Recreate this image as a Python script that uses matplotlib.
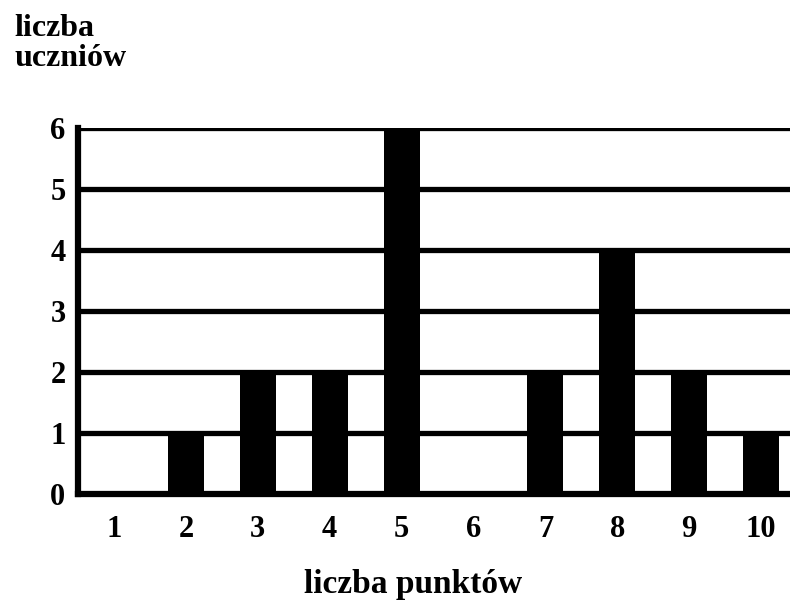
import matplotlib
matplotlib.use('Agg')
import matplotlib.pyplot as plt

# points scored and how many pupils got them
punkty = [1, 2, 3, 4, 5, 6, 7, 8, 9, 10]
uczniowie = [0, 1, 2, 2, 6, 0, 2, 4, 2, 1]
y_ticks = [0, 1, 2, 3, 4, 5, 6]

plt.rcParams['font.family'] = ['Liberation Serif', 'DejaVu Serif']
plt.rcParams['font.weight'] = 'bold'

fig = plt.figure(figsize=(7.9, 6.03), dpi=100)
ax = fig.add_axes([0.0987, 0.1808, 0.9013, 0.6069])

for y in y_ticks[1:]:
	ax.axhline(y, color='black', lw=3.8, zorder=1)
ax.bar(punkty, uczniowie, width=0.5, color='black', zorder=2)

ax.set_xlim(0.5, 10.4)
ax.set_ylim(0, 6)
ax.set_xticks(punkty)
ax.set_yticks(y_ticks)
ax.tick_params(axis='both', length=0, labelsize=22)
ax.tick_params(axis='x', pad=15)
ax.tick_params(axis='y', pad=9)
for lab in ax.get_xticklabels() + ax.get_yticklabels():
	lab.set_fontweight('bold')

ax.spines['right'].set_visible(False)
ax.spines['top'].set_visible(False)
ax.spines['left'].set_linewidth(4.5)
ax.spines['bottom'].set_linewidth(4.5)

fig.text(0.018, 0.977, 'liczba\nuczniów', fontsize=23, fontweight='bold',
	va='top', ha='left', linespacing=1.05)
fig.text(0.523, 0.03, 'liczba punktów', fontsize=24, fontweight='bold',
	va='center', ha='center')

fig.savefig('out.png', dpi=100)
